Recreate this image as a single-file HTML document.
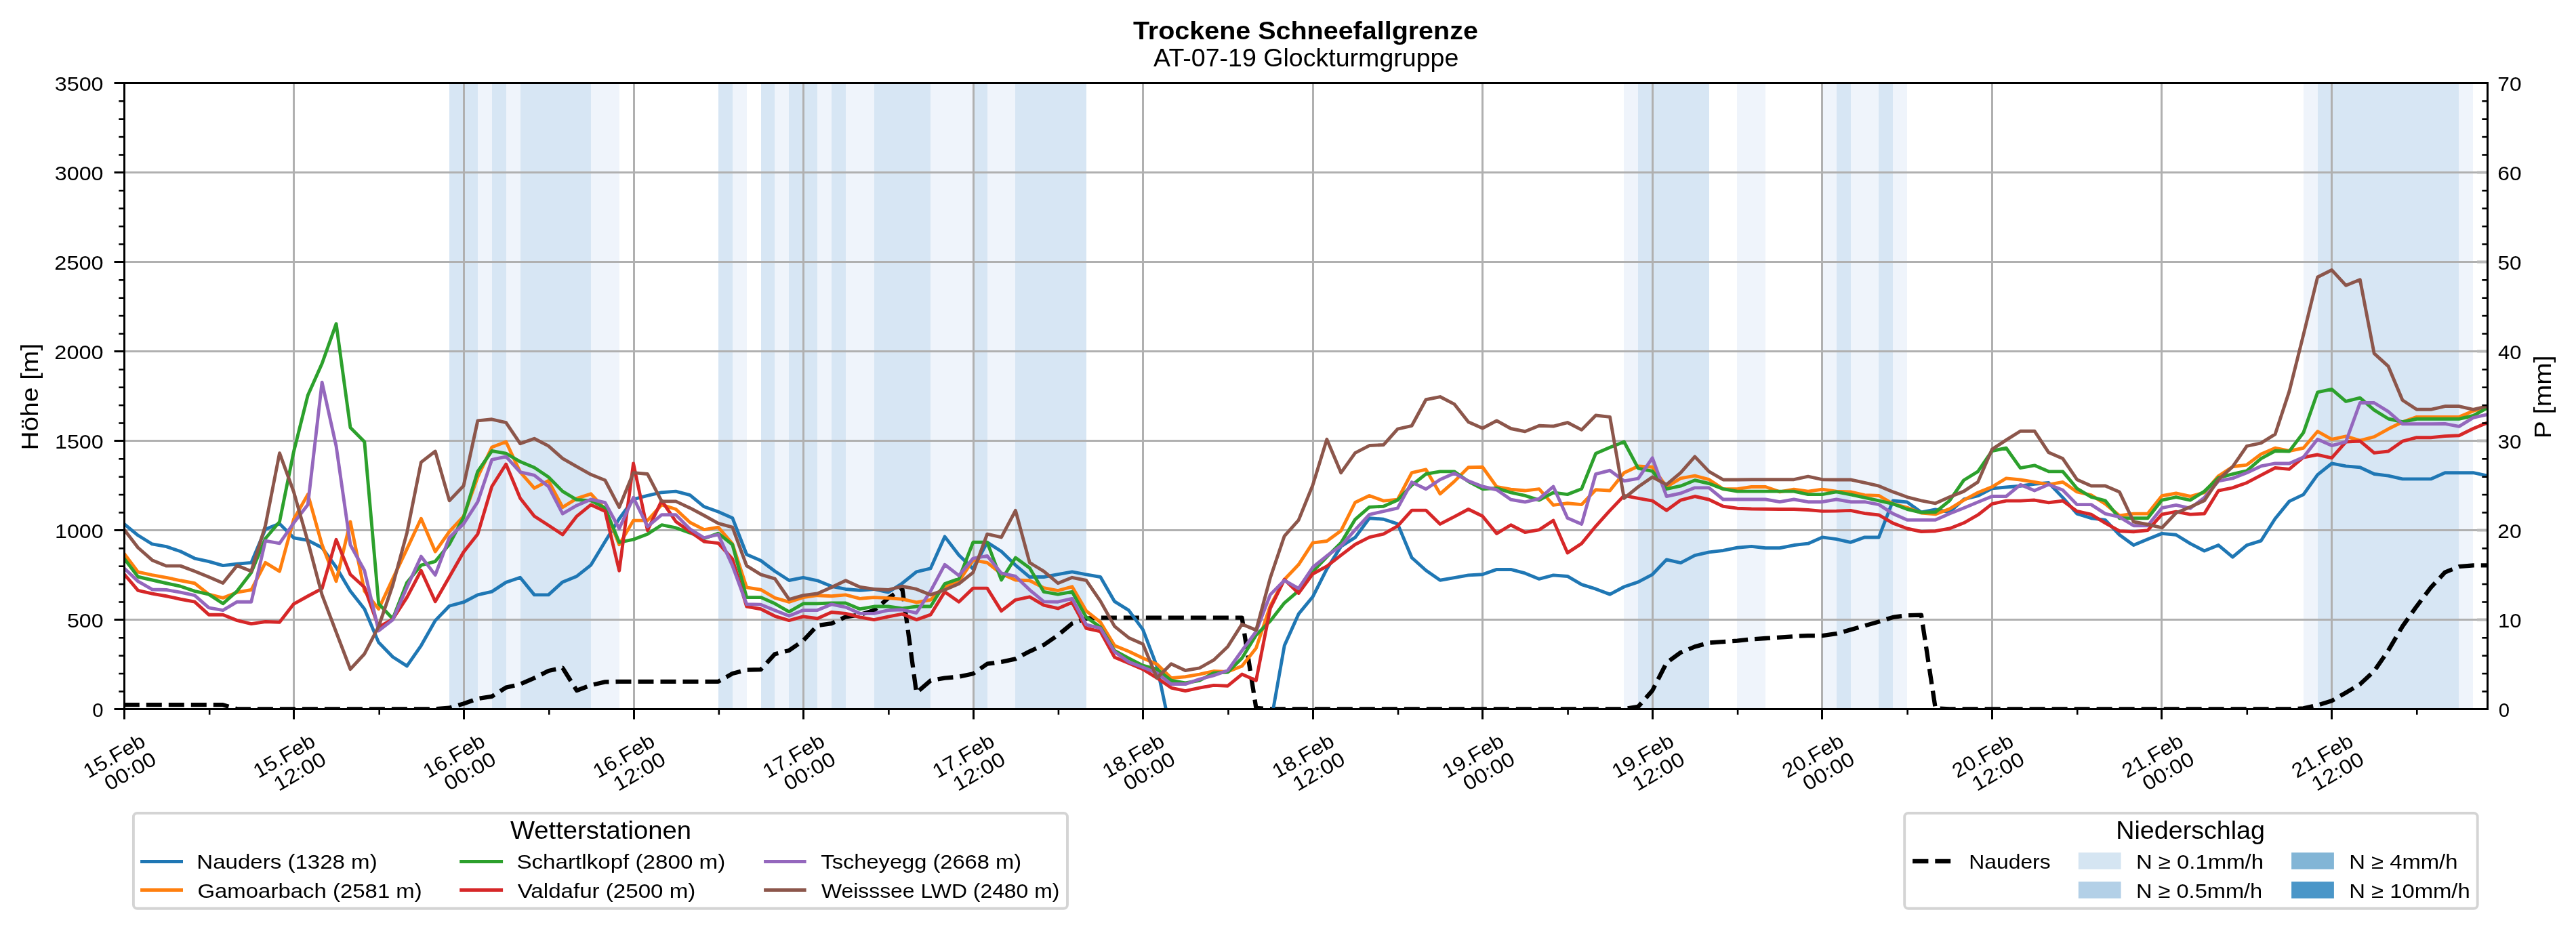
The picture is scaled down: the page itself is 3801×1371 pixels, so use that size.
<!DOCTYPE html>
<html><head><meta charset="utf-8"><title>Trockene Schneefallgrenze</title>
<style>html,body{margin:0;padding:0;background:#fff}svg{display:block;will-change:transform}</style></head>
<body>
<svg width="3801" height="1371" viewBox="0 0 3801 1371" font-family="'Liberation Sans', sans-serif" fill="#000">
<rect width="3801" height="1371" fill="#fff"/>
<defs><clipPath id="ax"><rect x="183.50" y="122.50" width="3487.00" height="924.00"/></clipPath></defs>
<g clip-path="url(#ax)">
<rect x="663" y="122.50" width="42" height="924.00" fill="#d7e6f4"/>
<rect x="705" y="122.50" width="21" height="924.00" fill="#eff4fb"/>
<rect x="726" y="122.50" width="21" height="924.00" fill="#d7e6f4"/>
<rect x="747" y="122.50" width="21" height="924.00" fill="#eff4fb"/>
<rect x="768" y="122.50" width="104" height="924.00" fill="#d7e6f4"/>
<rect x="872" y="122.50" width="42" height="924.00" fill="#eff4fb"/>
<rect x="1060" y="122.50" width="21" height="924.00" fill="#d7e6f4"/>
<rect x="1081" y="122.50" width="21" height="924.00" fill="#eff4fb"/>
<rect x="1123" y="122.50" width="20" height="924.00" fill="#d7e6f4"/>
<rect x="1143" y="122.50" width="21" height="924.00" fill="#eff4fb"/>
<rect x="1164" y="122.50" width="42" height="924.00" fill="#d7e6f4"/>
<rect x="1206" y="122.50" width="21" height="924.00" fill="#eff4fb"/>
<rect x="1227" y="122.50" width="21" height="924.00" fill="#d7e6f4"/>
<rect x="1248" y="122.50" width="42" height="924.00" fill="#eff4fb"/>
<rect x="1290" y="122.50" width="83" height="924.00" fill="#d7e6f4"/>
<rect x="1373" y="122.50" width="63" height="924.00" fill="#eff4fb"/>
<rect x="1436" y="122.50" width="21" height="924.00" fill="#d7e6f4"/>
<rect x="1457" y="122.50" width="41" height="924.00" fill="#eff4fb"/>
<rect x="1498" y="122.50" width="105" height="924.00" fill="#d7e6f4"/>
<rect x="2396" y="122.50" width="21" height="924.00" fill="#eff4fb"/>
<rect x="2417" y="122.50" width="105" height="924.00" fill="#d7e6f4"/>
<rect x="2563" y="122.50" width="42" height="924.00" fill="#eff4fb"/>
<rect x="2689" y="122.50" width="21" height="924.00" fill="#eff4fb"/>
<rect x="2710" y="122.50" width="21" height="924.00" fill="#d7e6f4"/>
<rect x="2731" y="122.50" width="41" height="924.00" fill="#eff4fb"/>
<rect x="2772" y="122.50" width="21" height="924.00" fill="#d7e6f4"/>
<rect x="2793" y="122.50" width="21" height="924.00" fill="#eff4fb"/>
<rect x="3399" y="122.50" width="21" height="924.00" fill="#eff4fb"/>
<rect x="3420" y="122.50" width="208" height="924.00" fill="#d7e6f4"/>
<rect x="3628" y="122.50" width="21" height="924.00" fill="#eff4fb"/>
<line x1="433.50" x2="433.50" y1="122.50" y2="1046.50" stroke="#b0b0b0" stroke-width="3.0"/>
<line x1="684.50" x2="684.50" y1="122.50" y2="1046.50" stroke="#b0b0b0" stroke-width="3.0"/>
<line x1="935.50" x2="935.50" y1="122.50" y2="1046.50" stroke="#b0b0b0" stroke-width="3.0"/>
<line x1="1185.50" x2="1185.50" y1="122.50" y2="1046.50" stroke="#b0b0b0" stroke-width="3.0"/>
<line x1="1436.50" x2="1436.50" y1="122.50" y2="1046.50" stroke="#b0b0b0" stroke-width="3.0"/>
<line x1="1686.50" x2="1686.50" y1="122.50" y2="1046.50" stroke="#b0b0b0" stroke-width="3.0"/>
<line x1="1937.50" x2="1937.50" y1="122.50" y2="1046.50" stroke="#b0b0b0" stroke-width="3.0"/>
<line x1="2187.50" x2="2187.50" y1="122.50" y2="1046.50" stroke="#b0b0b0" stroke-width="3.0"/>
<line x1="2438.50" x2="2438.50" y1="122.50" y2="1046.50" stroke="#b0b0b0" stroke-width="3.0"/>
<line x1="2688.50" x2="2688.50" y1="122.50" y2="1046.50" stroke="#b0b0b0" stroke-width="3.0"/>
<line x1="2939.50" x2="2939.50" y1="122.50" y2="1046.50" stroke="#b0b0b0" stroke-width="3.0"/>
<line x1="3189.50" x2="3189.50" y1="122.50" y2="1046.50" stroke="#b0b0b0" stroke-width="3.0"/>
<line x1="3440.50" x2="3440.50" y1="122.50" y2="1046.50" stroke="#b0b0b0" stroke-width="3.0"/>
<line x1="183.50" x2="3670.50" y1="914.50" y2="914.50" stroke="#b0b0b0" stroke-width="3.0"/>
<line x1="183.50" x2="3670.50" y1="782.50" y2="782.50" stroke="#b0b0b0" stroke-width="3.0"/>
<line x1="183.50" x2="3670.50" y1="650.50" y2="650.50" stroke="#b0b0b0" stroke-width="3.0"/>
<line x1="183.50" x2="3670.50" y1="518.50" y2="518.50" stroke="#b0b0b0" stroke-width="3.0"/>
<line x1="183.50" x2="3670.50" y1="386.50" y2="386.50" stroke="#b0b0b0" stroke-width="3.0"/>
<line x1="183.50" x2="3670.50" y1="254.50" y2="254.50" stroke="#b0b0b0" stroke-width="3.0"/>
<line x1="3655.10" x2="3670.50" y1="914.50" y2="914.50" stroke="#b8b8b8" stroke-width="4.2"/>
<line x1="3655.10" x2="3670.50" y1="782.50" y2="782.50" stroke="#b8b8b8" stroke-width="4.2"/>
<line x1="3655.10" x2="3670.50" y1="650.50" y2="650.50" stroke="#b8b8b8" stroke-width="4.2"/>
<line x1="3655.10" x2="3670.50" y1="518.50" y2="518.50" stroke="#b8b8b8" stroke-width="4.2"/>
<line x1="3655.10" x2="3670.50" y1="386.50" y2="386.50" stroke="#b8b8b8" stroke-width="4.2"/>
<line x1="3655.10" x2="3670.50" y1="254.50" y2="254.50" stroke="#b8b8b8" stroke-width="4.2"/>
<polyline points="182.80,1040.17 203.68,1040.17 224.57,1040.17 245.45,1040.17 266.33,1040.17 287.22,1040.17 308.10,1040.17 328.98,1040.17 349.86,1046.37 370.75,1046.37 391.63,1046.37 412.51,1046.37 433.40,1046.37 454.28,1046.37 475.16,1046.37 496.05,1046.37 516.93,1046.37 537.81,1046.37 558.69,1046.37 579.58,1046.37 600.46,1046.37 621.34,1046.37 642.23,1046.37 663.11,1044.65 683.99,1038.58 704.88,1030.93 725.76,1027.77 746.64,1014.57 767.52,1009.82 788.41,1000.59 809.29,990.03 830.17,985.55 851.06,1019.06 871.94,1011.14 892.82,1006.39 913.70,1005.87 934.59,1005.87 955.47,1005.87 976.35,1005.87 997.24,1005.87 1018.12,1005.87 1039.00,1005.87 1059.89,1005.87 1080.77,993.99 1101.65,988.71 1122.54,988.19 1143.42,965.23 1164.30,959.95 1185.18,945.44 1206.07,923.01 1226.95,920.11 1247.83,910.35 1268.72,907.18 1289.60,900.85 1310.48,882.91 1331.37,868.66 1352.25,1022.49 1373.13,1004.28 1394.01,1000.59 1414.90,998.74 1435.78,994.26 1456.66,979.74 1477.55,976.84 1498.43,972.36 1519.31,961.27 1540.19,951.77 1561.08,937.26 1581.96,920.11 1602.84,912.72 1623.73,911.67 1644.61,911.67 1665.49,911.67 1686.38,911.67 1707.26,911.67 1728.14,911.67 1749.02,911.67 1769.91,911.67 1790.79,911.67 1811.67,911.67 1832.56,911.67 1853.44,1044.92 1874.32,1046.37 1895.21,1046.37 1916.09,1046.37 1936.97,1046.37 1957.85,1046.37 1978.74,1046.37 1999.62,1046.37 2020.50,1046.37 2041.39,1046.37 2062.27,1046.37 2083.15,1046.37 2104.04,1046.37 2124.92,1046.37 2145.80,1046.37 2166.68,1046.37 2187.57,1046.37 2208.45,1046.37 2229.33,1046.37 2250.22,1046.37 2271.10,1046.37 2291.98,1046.37 2312.87,1046.37 2333.75,1046.37 2354.63,1046.37 2375.51,1046.37 2396.40,1046.37 2417.28,1042.81 2438.16,1019.06 2459.05,978.16 2479.93,962.86 2500.81,954.41 2521.70,948.61 2542.58,947.02 2563.46,945.71 2584.35,943.33 2605.23,942.01 2626.11,940.69 2646.99,939.11 2667.88,938.05 2688.76,938.05 2709.64,935.15 2730.53,929.35 2751.41,923.54 2772.29,917.47 2793.18,910.88 2814.06,908.24 2834.94,907.71 2855.82,1045.44 2876.71,1046.37 2897.59,1046.37 2918.47,1046.37 2939.36,1046.37 2960.24,1046.37 2981.12,1046.37 3002.01,1046.37 3022.89,1046.37 3043.77,1046.37 3064.65,1046.37 3085.54,1046.37 3106.42,1046.37 3127.30,1046.37 3148.19,1046.37 3169.07,1046.37 3189.95,1046.37 3210.84,1046.37 3231.72,1046.37 3252.60,1046.37 3273.48,1046.37 3294.37,1046.37 3315.25,1046.37 3336.13,1046.37 3357.02,1046.37 3377.90,1046.37 3398.78,1045.44 3419.66,1040.70 3440.55,1034.36 3461.43,1022.22 3482.31,1009.82 3503.20,990.30 3524.08,959.95 3544.96,924.33 3565.85,894.78 3586.73,867.08 3607.61,844.65 3628.49,836.20 3649.38,834.36 3670.26,834.36" fill="none" stroke="#000" stroke-width="6.3" stroke-dasharray="23 10" stroke-linejoin="round"/>
<polyline points="182.80,772.88 203.68,790.03 224.57,802.96 245.45,806.65 266.33,813.78 287.22,824.07 308.10,828.55 328.98,834.62 349.86,832.25 370.75,830.40 391.63,781.06 412.51,772.88 433.40,793.72 454.28,797.42 475.16,808.23 496.05,837.00 516.93,872.35 537.81,898.74 558.69,948.08 579.58,969.45 600.46,982.91 621.34,952.83 642.23,915.89 663.11,894.25 683.99,888.71 704.88,877.89 725.76,873.14 746.64,859.42 767.52,852.30 788.41,877.89 809.29,877.89 830.17,858.90 851.06,850.45 871.94,833.83 892.82,799.26 913.70,765.49 934.59,736.99 955.47,731.45 976.35,726.70 997.24,725.12 1018.12,730.66 1039.00,747.81 1059.89,755.20 1080.77,764.43 1101.65,818.26 1122.54,827.23 1143.42,843.06 1164.30,856.52 1185.18,852.30 1206.07,856.78 1226.95,865.23 1247.83,869.45 1268.72,871.30 1289.60,869.45 1310.48,874.20 1331.37,860.74 1352.25,843.86 1373.13,838.84 1394.01,791.88 1414.90,819.32 1435.78,839.37 1456.66,800.32 1477.55,813.78 1498.43,834.09 1519.31,851.51 1540.19,851.51 1561.08,847.55 1581.96,843.86 1602.84,847.81 1623.73,851.51 1644.61,887.66 1665.49,900.59 1686.38,929.08 1707.26,983.97 1728.14,1083.44 1749.02,1125.66 1769.91,1125.66 1790.79,1125.66 1811.67,1125.66 1832.56,1125.66 1853.44,1125.66 1874.32,1071.04 1895.21,952.83 1916.09,906.13 1936.97,880.80 1957.85,839.63 1978.74,806.39 1999.62,793.19 2020.50,764.70 2041.39,766.28 2062.27,773.14 2083.15,823.01 2104.04,841.74 2124.92,856.26 2145.80,852.56 2166.68,848.87 2187.57,847.81 2208.45,840.43 2229.33,840.43 2250.22,845.97 2271.10,854.41 2291.98,848.87 2312.87,850.45 2333.75,862.59 2354.63,869.19 2375.51,877.10 2396.40,866.02 2417.28,858.90 2438.16,847.81 2459.05,825.91 2479.93,830.66 2500.81,819.58 2521.70,814.83 2542.58,812.46 2563.46,808.23 2584.35,806.39 2605.23,808.76 2626.11,808.76 2646.99,804.54 2667.88,802.17 2688.76,792.93 2709.64,795.57 2730.53,800.32 2751.41,792.93 2772.29,792.93 2793.18,738.84 2814.06,740.95 2834.94,755.99 2855.82,752.03 2876.71,755.73 2897.59,736.99 2918.47,731.72 2939.36,720.90 2960.24,719.05 2981.12,717.20 3002.01,714.30 3022.89,712.45 3043.77,734.35 3064.65,758.10 3085.54,764.70 3106.42,767.34 3127.30,789.24 3148.19,804.54 3169.07,795.83 3189.95,787.39 3210.84,789.24 3231.72,802.17 3252.60,812.98 3273.48,804.54 3294.37,822.22 3315.25,804.54 3336.13,798.21 3357.02,765.49 3377.90,739.89 3398.78,729.87 3419.66,700.58 3440.55,683.96 3461.43,687.91 3482.31,689.76 3503.20,699.52 3524.08,702.16 3544.96,706.91 3565.85,706.91 3586.73,706.91 3607.61,697.68 3628.49,697.68 3649.38,697.68 3670.26,702.16" fill="none" stroke="#1f77b4" stroke-width="4.9" stroke-linejoin="round" stroke-linecap="square"/>
<polyline points="182.80,816.41 203.68,844.12 224.57,848.61 245.45,852.30 266.33,856.78 287.22,860.74 308.10,877.10 328.98,882.38 349.86,874.20 370.75,870.51 391.63,830.40 412.51,843.06 433.40,766.28 454.28,729.60 475.16,804.01 496.05,857.84 516.93,769.97 537.81,872.35 558.69,898.74 579.58,854.15 600.46,810.08 621.34,765.23 642.23,814.04 663.11,784.49 683.99,762.06 704.88,704.01 725.76,659.95 746.64,652.03 767.52,696.62 788.41,720.37 809.29,709.55 830.17,748.60 851.06,735.67 871.94,728.81 892.82,751.50 913.70,803.75 934.59,768.13 955.47,768.13 976.35,744.91 997.24,751.50 1018.12,771.03 1039.00,781.58 1059.89,778.15 1080.77,802.69 1101.65,866.81 1122.54,870.24 1143.42,882.38 1164.30,888.45 1185.18,881.59 1206.07,878.69 1226.95,879.74 1247.83,877.89 1268.72,883.43 1289.60,881.59 1310.48,882.64 1331.37,884.23 1352.25,888.98 1373.13,885.28 1394.01,865.23 1414.90,857.84 1435.78,826.70 1456.66,830.40 1477.55,846.76 1498.43,855.99 1519.31,856.78 1540.19,867.60 1561.08,871.56 1581.96,865.76 1602.84,901.64 1623.73,918.26 1644.61,952.83 1665.49,961.27 1686.38,971.30 1707.26,980.27 1728.14,1000.59 1749.02,998.74 1769.91,995.05 1790.79,990.56 1811.67,991.35 1832.56,982.91 1853.44,956.52 1874.32,894.25 1895.21,855.20 1916.09,833.30 1936.97,801.11 1957.85,798.47 1978.74,783.17 1999.62,741.48 2020.50,731.45 2041.39,739.10 2062.27,737.26 2083.15,697.68 2104.04,692.93 2124.92,728.81 2145.80,710.61 2166.68,689.76 2187.57,689.23 2208.45,718.52 2229.33,722.22 2250.22,724.06 2271.10,721.69 2291.98,745.44 2312.87,742.80 2333.75,744.64 2354.63,722.74 2375.51,724.06 2396.40,697.68 2417.28,687.91 2438.16,689.23 2459.05,718.52 2479.93,705.86 2500.81,702.16 2521.70,707.70 2542.58,721.69 2563.46,721.69 2584.35,718.52 2605.23,718.52 2626.11,725.91 2646.99,722.22 2667.88,725.12 2688.76,722.22 2709.64,725.12 2730.53,725.91 2751.41,730.66 2772.29,731.45 2793.18,743.59 2814.06,749.13 2834.94,757.05 2855.82,758.89 2876.71,750.98 2897.59,738.05 2918.47,726.97 2939.36,718.52 2960.24,705.86 2981.12,707.97 3002.01,711.40 3022.89,715.09 3043.77,711.40 3064.65,725.91 3085.54,730.66 3106.42,743.59 3127.30,761.00 3148.19,758.10 3169.07,758.10 3189.95,731.72 3210.84,728.02 3231.72,732.51 3252.60,726.97 3273.48,702.43 3294.37,688.71 3315.25,686.07 3336.13,670.24 3357.02,661.26 3377.90,665.49 3398.78,661.26 3419.66,636.73 3440.55,648.34 3461.43,643.85 3482.31,650.18 3503.20,644.64 3524.08,633.03 3544.96,622.74 3565.85,615.35 3586.73,615.35 3607.61,615.35 3628.49,615.35 3649.38,606.38 3670.26,600.84" fill="none" stroke="#ff7f0e" stroke-width="4.9" stroke-linejoin="round" stroke-linecap="square"/>
<polyline points="182.80,823.80 203.68,851.24 224.57,855.99 245.45,860.74 266.33,865.23 287.22,872.35 308.10,877.10 328.98,890.82 349.86,872.35 370.75,844.91 391.63,794.78 412.51,769.97 433.40,666.54 454.28,583.16 475.16,536.46 496.05,477.88 516.93,630.92 537.81,652.03 558.69,890.82 579.58,913.25 600.46,859.69 621.34,834.09 642.23,828.55 663.11,803.22 683.99,763.64 704.88,695.83 725.76,665.49 746.64,669.18 767.52,681.32 788.41,690.03 809.29,704.01 830.17,725.12 851.06,737.52 871.94,738.84 892.82,749.66 913.70,800.32 934.59,796.10 955.47,788.18 976.35,774.72 997.24,778.95 1018.12,786.33 1039.00,794.78 1059.89,787.13 1080.77,803.75 1101.65,881.59 1122.54,881.59 1143.42,890.82 1164.30,902.96 1185.18,890.82 1206.07,890.82 1226.95,890.03 1247.83,890.03 1268.72,898.74 1289.60,895.04 1310.48,895.04 1331.37,897.95 1352.25,895.04 1373.13,895.04 1394.01,861.53 1414.90,854.15 1435.78,800.32 1456.66,800.32 1477.55,855.99 1498.43,823.01 1519.31,838.31 1540.19,873.41 1561.08,877.10 1581.96,873.41 1602.84,910.88 1623.73,925.39 1644.61,960.22 1665.49,971.30 1686.38,982.12 1707.26,987.66 1728.14,1004.28 1749.02,1007.98 1769.91,1004.28 1790.79,993.20 1811.67,992.14 1832.56,971.30 1853.44,937.26 1874.32,916.42 1895.21,889.77 1916.09,871.82 1936.97,843.59 1957.85,821.69 1978.74,801.11 1999.62,766.54 2020.50,748.34 2041.39,747.28 2062.27,738.05 2083.15,716.15 2104.04,699.52 2124.92,695.83 2145.80,695.83 2166.68,710.61 2187.57,721.69 2208.45,720.37 2229.33,726.97 2250.22,731.45 2271.10,738.05 2291.98,726.97 2312.87,729.60 2333.75,721.42 2354.63,669.18 2375.51,660.21 2396.40,652.03 2417.28,691.08 2438.16,695.30 2459.05,721.69 2479.93,717.20 2500.81,708.76 2521.70,713.51 2542.58,721.69 2563.46,725.12 2584.35,725.12 2605.23,725.12 2626.11,725.12 2646.99,725.12 2667.88,729.60 2688.76,729.60 2709.64,725.91 2730.53,729.87 2751.41,734.35 2772.29,738.84 2793.18,743.59 2814.06,751.50 2834.94,756.25 2855.82,755.73 2876.71,738.84 2897.59,708.76 2918.47,695.83 2939.36,665.49 2960.24,661.26 2981.12,690.55 3002.01,686.86 3022.89,695.83 3043.77,695.83 3064.65,720.90 3085.54,733.30 3106.42,738.84 3127.30,764.70 3148.19,764.70 3169.07,764.70 3189.95,738.05 3210.84,733.56 3231.72,738.05 3252.60,725.12 3273.48,705.07 3294.37,699.52 3315.25,694.77 3336.13,676.83 3357.02,665.49 3377.90,666.01 3398.78,638.57 3419.66,578.94 3440.55,574.45 3461.43,592.40 3482.31,587.12 3503.20,605.06 3524.08,617.99 3544.96,622.74 3565.85,618.26 3586.73,618.26 3607.61,618.26 3628.49,618.26 3649.38,613.51 3670.26,601.90" fill="none" stroke="#2ca02c" stroke-width="4.9" stroke-linejoin="round" stroke-linecap="square"/>
<polyline points="182.80,846.76 203.68,871.30 224.57,876.05 245.45,879.74 266.33,884.23 287.22,888.18 308.10,907.18 328.98,907.18 349.86,915.63 370.75,920.64 391.63,917.47 412.51,918.26 433.40,891.35 454.28,879.74 475.16,868.66 496.05,796.36 516.93,847.81 537.81,866.81 558.69,925.39 579.58,913.78 600.46,881.59 621.34,842.01 642.23,887.66 663.11,851.24 683.99,814.83 704.88,788.18 725.76,717.99 746.64,685.01 767.52,735.15 788.41,761.80 809.29,775.25 830.17,788.97 851.06,761.80 871.94,744.91 892.82,754.41 913.70,842.27 934.59,683.96 955.47,782.64 976.35,738.84 997.24,769.71 1018.12,784.49 1039.00,799.26 1059.89,801.64 1080.77,824.86 1101.65,895.04 1122.54,898.74 1143.42,909.29 1164.30,915.63 1185.18,909.82 1206.07,912.72 1226.95,903.49 1247.83,905.33 1268.72,910.88 1289.60,914.57 1310.48,910.08 1331.37,906.13 1352.25,914.57 1373.13,907.18 1394.01,873.41 1414.90,888.18 1435.78,868.13 1456.66,868.13 1477.55,901.64 1498.43,885.28 1519.31,880.80 1540.19,893.20 1561.08,897.95 1581.96,888.98 1602.84,927.24 1623.73,931.98 1644.61,969.98 1665.49,978.69 1686.38,987.66 1707.26,1000.59 1728.14,1015.10 1749.02,1019.59 1769.91,1015.10 1790.79,1011.41 1811.67,1012.20 1832.56,995.05 1853.44,1004.28 1874.32,897.95 1895.21,855.20 1916.09,875.52 1936.97,847.02 1957.85,835.68 1978.74,819.32 1999.62,803.48 2020.50,792.93 2041.39,788.18 2062.27,776.31 2083.15,753.09 2104.04,753.09 2124.92,773.40 2145.80,762.59 2166.68,751.50 2187.57,761.80 2208.45,787.39 2229.33,774.72 2250.22,785.54 2271.10,781.85 2291.98,768.13 2312.87,815.89 2333.75,802.17 2354.63,776.57 2375.51,753.35 2396.40,731.45 2417.28,735.41 2438.16,739.10 2459.05,753.35 2479.93,738.05 2500.81,732.51 2521.70,737.26 2542.58,747.28 2563.46,750.19 2584.35,750.98 2605.23,751.24 2626.11,751.50 2646.99,751.50 2667.88,752.56 2688.76,754.41 2709.64,754.14 2730.53,753.35 2751.41,757.57 2772.29,759.95 2793.18,772.09 2814.06,780.00 2834.94,784.49 2855.82,783.70 2876.71,780.00 2897.59,771.82 2918.47,759.95 2939.36,743.59 2960.24,739.10 2981.12,739.10 3002.01,738.05 3022.89,741.74 3043.77,739.10 3064.65,754.41 3085.54,759.16 3106.42,771.82 3127.30,783.70 3148.19,784.75 3169.07,782.64 3189.95,759.16 3210.84,755.20 3231.72,759.16 3252.60,758.10 3273.48,724.06 3294.37,719.84 3315.25,712.45 3336.13,701.37 3357.02,690.55 3377.90,692.40 3398.78,674.99 3419.66,671.03 3440.55,675.78 3461.43,652.03 3482.31,650.97 3503.20,668.39 3524.08,666.01 3544.96,651.24 3565.85,645.70 3586.73,645.70 3607.61,643.59 3628.49,642.79 3649.38,632.50 3670.26,623.80" fill="none" stroke="#d62728" stroke-width="4.9" stroke-linejoin="round" stroke-linecap="square"/>
<polyline points="182.80,838.31 203.68,857.84 224.57,869.98 245.45,870.51 266.33,874.20 287.22,878.69 308.10,896.89 328.98,900.59 349.86,888.18 370.75,888.18 391.63,798.21 412.51,801.90 433.40,771.82 454.28,744.64 475.16,564.16 496.05,658.36 516.93,804.01 537.81,842.01 558.69,930.93 579.58,914.57 600.46,866.81 621.34,821.16 642.23,848.61 663.11,793.19 683.99,773.14 704.88,740.69 725.76,678.42 746.64,673.93 767.52,696.62 788.41,701.37 809.29,717.99 830.17,758.10 851.06,745.96 871.94,736.99 892.82,741.74 913.70,780.00 934.59,734.35 955.47,777.10 976.35,759.68 997.24,759.68 1018.12,780.79 1039.00,793.72 1059.89,788.97 1080.77,834.88 1101.65,891.61 1122.54,892.14 1143.42,900.85 1164.30,909.03 1185.18,900.59 1206.07,900.59 1226.95,891.88 1247.83,896.10 1268.72,905.33 1289.60,905.33 1310.48,900.59 1331.37,899.79 1352.25,904.54 1373.13,872.35 1394.01,833.30 1414.90,849.40 1435.78,824.07 1456.66,820.37 1477.55,845.97 1498.43,850.45 1519.31,870.51 1540.19,887.92 1561.08,888.18 1581.96,883.43 1602.84,921.96 1623.73,927.24 1644.61,962.06 1665.49,976.84 1686.38,984.76 1707.26,993.20 1728.14,1009.56 1749.02,1009.56 1769.91,1002.44 1790.79,996.89 1811.67,989.51 1832.56,960.22 1853.44,931.98 1874.32,877.63 1895.21,856.52 1916.09,868.39 1936.97,837.26 1957.85,820.37 1978.74,805.60 1999.62,781.85 2020.50,759.42 2041.39,754.67 2062.27,749.92 2083.15,711.66 2104.04,721.69 2124.92,707.70 2145.80,698.47 2166.68,709.81 2187.57,717.99 2208.45,722.74 2229.33,737.26 2250.22,740.95 2271.10,736.20 2291.98,717.99 2312.87,764.43 2333.75,773.40 2354.63,699.52 2375.51,694.25 2396.40,709.81 2417.28,706.12 2438.16,675.78 2459.05,732.51 2479.93,728.02 2500.81,719.84 2521.70,719.84 2542.58,736.99 2563.46,736.99 2584.35,736.99 2605.23,736.99 2626.11,740.69 2646.99,736.99 2667.88,740.69 2688.76,740.69 2709.64,736.99 2730.53,740.69 2751.41,740.69 2772.29,744.64 2793.18,758.10 2814.06,767.34 2834.94,767.34 2855.82,767.34 2876.71,758.10 2897.59,749.66 2918.47,740.95 2939.36,732.51 2960.24,732.51 2981.12,715.36 3002.01,724.06 3022.89,715.09 3043.77,723.27 3064.65,744.64 3085.54,744.64 3106.42,758.10 3127.30,762.85 3148.19,775.78 3169.07,775.78 3189.95,749.66 3210.84,745.44 3231.72,750.19 3252.60,734.35 3273.48,709.81 3294.37,705.86 3315.25,697.68 3336.13,687.91 3357.02,683.96 3377.90,683.96 3398.78,674.72 3419.66,648.34 3440.55,657.57 3461.43,652.03 3482.31,594.51 3503.20,594.51 3524.08,607.44 3544.96,625.64 3565.85,625.64 3586.73,625.64 3607.61,625.38 3628.49,629.34 3649.38,616.41 3670.26,611.66" fill="none" stroke="#9467bd" stroke-width="4.9" stroke-linejoin="round" stroke-linecap="square"/>
<polyline points="182.80,781.06 203.68,808.23 224.57,826.70 245.45,835.15 266.33,835.15 287.22,843.06 308.10,851.51 328.98,860.48 349.86,834.62 370.75,843.06 391.63,775.52 412.51,668.65 433.40,725.91 454.28,799.26 475.16,877.89 496.05,932.78 516.93,987.66 537.81,964.97 558.69,924.60 579.58,863.38 600.46,786.33 621.34,682.11 642.23,666.01 663.11,738.84 683.99,716.94 704.88,620.89 725.76,618.78 746.64,623.53 767.52,654.67 788.41,647.28 809.29,658.10 830.17,676.57 851.06,688.71 871.94,700.32 892.82,708.76 913.70,748.60 934.59,697.68 955.47,699.52 976.35,739.89 997.24,739.89 1018.12,749.66 1039.00,760.74 1059.89,772.35 1080.77,778.15 1101.65,834.88 1122.54,847.81 1143.42,854.15 1164.30,884.49 1185.18,878.69 1206.07,876.05 1226.95,866.81 1247.83,856.78 1268.72,866.28 1289.60,869.45 1310.48,870.51 1331.37,865.23 1352.25,869.45 1373.13,877.89 1394.01,870.51 1414.90,861.53 1435.78,844.91 1456.66,788.18 1477.55,792.93 1498.43,753.35 1519.31,830.40 1540.19,843.06 1561.08,860.74 1581.96,852.30 1602.84,856.52 1623.73,887.13 1644.61,924.33 1665.49,941.22 1686.38,950.45 1707.26,1000.59 1728.14,979.74 1749.02,989.51 1769.91,985.81 1790.79,974.20 1811.67,954.15 1832.56,921.17 1853.44,929.87 1874.32,852.83 1895.21,791.08 1916.09,767.60 1936.97,716.15 1957.85,648.34 1978.74,697.68 1999.62,668.39 2020.50,657.57 2041.39,656.51 2062.27,633.03 2083.15,628.28 2104.04,589.76 2124.92,585.54 2145.80,596.35 2166.68,622.74 2187.57,631.98 2208.45,620.89 2229.33,632.50 2250.22,636.73 2271.10,628.28 2291.98,629.07 2312.87,623.53 2333.75,634.35 2354.63,612.98 2375.51,615.35 2396.40,735.41 2417.28,718.52 2438.16,704.01 2459.05,715.09 2479.93,697.68 2500.81,673.93 2521.70,695.83 2542.58,707.97 2563.46,707.97 2584.35,707.70 2605.23,707.70 2626.11,707.70 2646.99,707.70 2667.88,703.22 2688.76,707.70 2709.64,707.97 2730.53,707.97 2751.41,712.45 2772.29,717.20 2793.18,725.91 2814.06,733.56 2834.94,738.84 2855.82,742.80 2876.71,733.56 2897.59,725.12 2918.47,711.40 2939.36,663.11 2960.24,649.39 2981.12,636.20 3002.01,636.20 3022.89,667.86 3043.77,676.83 3064.65,707.70 3085.54,716.94 3106.42,716.94 3127.30,725.91 3148.19,769.97 3169.07,773.93 3189.95,778.95 3210.84,757.05 3231.72,748.34 3252.60,738.84 3273.48,707.70 3294.37,688.71 3315.25,658.36 3336.13,653.88 3357.02,640.95 3377.90,577.62 3398.78,494.24 3419.66,409.01 3440.55,398.46 3461.43,421.15 3482.31,412.71 3503.20,521.68 3524.08,540.68 3544.96,590.55 3565.85,604.27 3586.73,604.27 3607.61,599.52 3628.49,599.52 3649.38,604.27 3670.26,599.52" fill="none" stroke="#8c564b" stroke-width="4.9" stroke-linejoin="round" stroke-linecap="square"/>
</g>
<line x1="168.50" x2="183.50" y1="1046.50" y2="1046.50" stroke="#000" stroke-width="3.0"/>
<line x1="175.30" x2="183.50" y1="1020.50" y2="1020.50" stroke="#000" stroke-width="2.6"/>
<line x1="175.30" x2="183.50" y1="994.10" y2="994.10" stroke="#000" stroke-width="2.6"/>
<line x1="175.30" x2="183.50" y1="967.70" y2="967.70" stroke="#000" stroke-width="2.6"/>
<line x1="175.30" x2="183.50" y1="941.30" y2="941.30" stroke="#000" stroke-width="2.6"/>
<line x1="168.50" x2="183.50" y1="914.50" y2="914.50" stroke="#000" stroke-width="3.0"/>
<line x1="175.30" x2="183.50" y1="888.50" y2="888.50" stroke="#000" stroke-width="2.6"/>
<line x1="175.30" x2="183.50" y1="862.10" y2="862.10" stroke="#000" stroke-width="2.6"/>
<line x1="175.30" x2="183.50" y1="835.70" y2="835.70" stroke="#000" stroke-width="2.6"/>
<line x1="175.30" x2="183.50" y1="809.30" y2="809.30" stroke="#000" stroke-width="2.6"/>
<line x1="168.50" x2="183.50" y1="782.50" y2="782.50" stroke="#000" stroke-width="3.0"/>
<line x1="175.30" x2="183.50" y1="756.50" y2="756.50" stroke="#000" stroke-width="2.6"/>
<line x1="175.30" x2="183.50" y1="730.10" y2="730.10" stroke="#000" stroke-width="2.6"/>
<line x1="175.30" x2="183.50" y1="703.70" y2="703.70" stroke="#000" stroke-width="2.6"/>
<line x1="175.30" x2="183.50" y1="677.30" y2="677.30" stroke="#000" stroke-width="2.6"/>
<line x1="168.50" x2="183.50" y1="650.50" y2="650.50" stroke="#000" stroke-width="3.0"/>
<line x1="175.30" x2="183.50" y1="624.50" y2="624.50" stroke="#000" stroke-width="2.6"/>
<line x1="175.30" x2="183.50" y1="598.10" y2="598.10" stroke="#000" stroke-width="2.6"/>
<line x1="175.30" x2="183.50" y1="571.70" y2="571.70" stroke="#000" stroke-width="2.6"/>
<line x1="175.30" x2="183.50" y1="545.30" y2="545.30" stroke="#000" stroke-width="2.6"/>
<line x1="168.50" x2="183.50" y1="518.50" y2="518.50" stroke="#000" stroke-width="3.0"/>
<line x1="175.30" x2="183.50" y1="492.50" y2="492.50" stroke="#000" stroke-width="2.6"/>
<line x1="175.30" x2="183.50" y1="466.10" y2="466.10" stroke="#000" stroke-width="2.6"/>
<line x1="175.30" x2="183.50" y1="439.70" y2="439.70" stroke="#000" stroke-width="2.6"/>
<line x1="175.30" x2="183.50" y1="413.30" y2="413.30" stroke="#000" stroke-width="2.6"/>
<line x1="168.50" x2="183.50" y1="386.50" y2="386.50" stroke="#000" stroke-width="3.0"/>
<line x1="175.30" x2="183.50" y1="360.50" y2="360.50" stroke="#000" stroke-width="2.6"/>
<line x1="175.30" x2="183.50" y1="334.10" y2="334.10" stroke="#000" stroke-width="2.6"/>
<line x1="175.30" x2="183.50" y1="307.70" y2="307.70" stroke="#000" stroke-width="2.6"/>
<line x1="175.30" x2="183.50" y1="281.30" y2="281.30" stroke="#000" stroke-width="2.6"/>
<line x1="168.50" x2="183.50" y1="254.50" y2="254.50" stroke="#000" stroke-width="3.0"/>
<line x1="175.30" x2="183.50" y1="228.50" y2="228.50" stroke="#000" stroke-width="2.6"/>
<line x1="175.30" x2="183.50" y1="202.10" y2="202.10" stroke="#000" stroke-width="2.6"/>
<line x1="175.30" x2="183.50" y1="175.70" y2="175.70" stroke="#000" stroke-width="2.6"/>
<line x1="175.30" x2="183.50" y1="149.30" y2="149.30" stroke="#000" stroke-width="2.6"/>
<line x1="168.50" x2="183.50" y1="122.50" y2="122.50" stroke="#000" stroke-width="3.0"/>
<line x1="3662.30" x2="3670.50" y1="1020.50" y2="1020.50" stroke="#000" stroke-width="2.6"/>
<line x1="3662.30" x2="3670.50" y1="994.10" y2="994.10" stroke="#000" stroke-width="2.6"/>
<line x1="3662.30" x2="3670.50" y1="967.70" y2="967.70" stroke="#000" stroke-width="2.6"/>
<line x1="3662.30" x2="3670.50" y1="941.30" y2="941.30" stroke="#000" stroke-width="2.6"/>
<line x1="3662.30" x2="3670.50" y1="888.50" y2="888.50" stroke="#000" stroke-width="2.6"/>
<line x1="3662.30" x2="3670.50" y1="862.10" y2="862.10" stroke="#000" stroke-width="2.6"/>
<line x1="3662.30" x2="3670.50" y1="835.70" y2="835.70" stroke="#000" stroke-width="2.6"/>
<line x1="3662.30" x2="3670.50" y1="809.30" y2="809.30" stroke="#000" stroke-width="2.6"/>
<line x1="3662.30" x2="3670.50" y1="756.50" y2="756.50" stroke="#000" stroke-width="2.6"/>
<line x1="3662.30" x2="3670.50" y1="730.10" y2="730.10" stroke="#000" stroke-width="2.6"/>
<line x1="3662.30" x2="3670.50" y1="703.70" y2="703.70" stroke="#000" stroke-width="2.6"/>
<line x1="3662.30" x2="3670.50" y1="677.30" y2="677.30" stroke="#000" stroke-width="2.6"/>
<line x1="3662.30" x2="3670.50" y1="624.50" y2="624.50" stroke="#000" stroke-width="2.6"/>
<line x1="3662.30" x2="3670.50" y1="598.10" y2="598.10" stroke="#000" stroke-width="2.6"/>
<line x1="3662.30" x2="3670.50" y1="571.70" y2="571.70" stroke="#000" stroke-width="2.6"/>
<line x1="3662.30" x2="3670.50" y1="545.30" y2="545.30" stroke="#000" stroke-width="2.6"/>
<line x1="3662.30" x2="3670.50" y1="492.50" y2="492.50" stroke="#000" stroke-width="2.6"/>
<line x1="3662.30" x2="3670.50" y1="466.10" y2="466.10" stroke="#000" stroke-width="2.6"/>
<line x1="3662.30" x2="3670.50" y1="439.70" y2="439.70" stroke="#000" stroke-width="2.6"/>
<line x1="3662.30" x2="3670.50" y1="413.30" y2="413.30" stroke="#000" stroke-width="2.6"/>
<line x1="3662.30" x2="3670.50" y1="360.50" y2="360.50" stroke="#000" stroke-width="2.6"/>
<line x1="3662.30" x2="3670.50" y1="334.10" y2="334.10" stroke="#000" stroke-width="2.6"/>
<line x1="3662.30" x2="3670.50" y1="307.70" y2="307.70" stroke="#000" stroke-width="2.6"/>
<line x1="3662.30" x2="3670.50" y1="281.30" y2="281.30" stroke="#000" stroke-width="2.6"/>
<line x1="3662.30" x2="3670.50" y1="228.50" y2="228.50" stroke="#000" stroke-width="2.6"/>
<line x1="3662.30" x2="3670.50" y1="202.10" y2="202.10" stroke="#000" stroke-width="2.6"/>
<line x1="3662.30" x2="3670.50" y1="175.70" y2="175.70" stroke="#000" stroke-width="2.6"/>
<line x1="3662.30" x2="3670.50" y1="149.30" y2="149.30" stroke="#000" stroke-width="2.6"/>
<line x1="183.50" x2="183.50" y1="1046.50" y2="1061.50" stroke="#000" stroke-width="3.0"/>
<line x1="309.17" x2="309.17" y1="1046.50" y2="1054.70" stroke="#000" stroke-width="2.6"/>
<line x1="433.50" x2="433.50" y1="1046.50" y2="1061.50" stroke="#000" stroke-width="3.0"/>
<line x1="559.72" x2="559.72" y1="1046.50" y2="1054.70" stroke="#000" stroke-width="2.6"/>
<line x1="684.50" x2="684.50" y1="1046.50" y2="1061.50" stroke="#000" stroke-width="3.0"/>
<line x1="810.27" x2="810.27" y1="1046.50" y2="1054.70" stroke="#000" stroke-width="2.6"/>
<line x1="935.50" x2="935.50" y1="1046.50" y2="1061.50" stroke="#000" stroke-width="3.0"/>
<line x1="1060.82" x2="1060.82" y1="1046.50" y2="1054.70" stroke="#000" stroke-width="2.6"/>
<line x1="1185.50" x2="1185.50" y1="1046.50" y2="1061.50" stroke="#000" stroke-width="3.0"/>
<line x1="1311.37" x2="1311.37" y1="1046.50" y2="1054.70" stroke="#000" stroke-width="2.6"/>
<line x1="1436.50" x2="1436.50" y1="1046.50" y2="1061.50" stroke="#000" stroke-width="3.0"/>
<line x1="1561.91" x2="1561.91" y1="1046.50" y2="1054.70" stroke="#000" stroke-width="2.6"/>
<line x1="1686.50" x2="1686.50" y1="1046.50" y2="1061.50" stroke="#000" stroke-width="3.0"/>
<line x1="1812.46" x2="1812.46" y1="1046.50" y2="1054.70" stroke="#000" stroke-width="2.6"/>
<line x1="1937.50" x2="1937.50" y1="1046.50" y2="1061.50" stroke="#000" stroke-width="3.0"/>
<line x1="2063.01" x2="2063.01" y1="1046.50" y2="1054.70" stroke="#000" stroke-width="2.6"/>
<line x1="2187.50" x2="2187.50" y1="1046.50" y2="1061.50" stroke="#000" stroke-width="3.0"/>
<line x1="2313.56" x2="2313.56" y1="1046.50" y2="1054.70" stroke="#000" stroke-width="2.6"/>
<line x1="2438.50" x2="2438.50" y1="1046.50" y2="1061.50" stroke="#000" stroke-width="3.0"/>
<line x1="2564.11" x2="2564.11" y1="1046.50" y2="1054.70" stroke="#000" stroke-width="2.6"/>
<line x1="2688.50" x2="2688.50" y1="1046.50" y2="1061.50" stroke="#000" stroke-width="3.0"/>
<line x1="2814.65" x2="2814.65" y1="1046.50" y2="1054.70" stroke="#000" stroke-width="2.6"/>
<line x1="2939.50" x2="2939.50" y1="1046.50" y2="1061.50" stroke="#000" stroke-width="3.0"/>
<line x1="3065.20" x2="3065.20" y1="1046.50" y2="1054.70" stroke="#000" stroke-width="2.6"/>
<line x1="3189.50" x2="3189.50" y1="1046.50" y2="1061.50" stroke="#000" stroke-width="3.0"/>
<line x1="3315.75" x2="3315.75" y1="1046.50" y2="1054.70" stroke="#000" stroke-width="2.6"/>
<line x1="3440.50" x2="3440.50" y1="1046.50" y2="1061.50" stroke="#000" stroke-width="3.0"/>
<line x1="3566.30" x2="3566.30" y1="1046.50" y2="1054.70" stroke="#000" stroke-width="2.6"/>
<rect x="183.50" y="122.50" width="3487.00" height="924.00" fill="none" stroke="#000" stroke-width="3.0"/>
<text x="136.13" y="1057.90" font-size="30.00" textLength="16.31" lengthAdjust="spacingAndGlyphs">0</text>
<text x="98.91" y="925.90" font-size="30.00" textLength="53.62" lengthAdjust="spacingAndGlyphs">500</text>
<text x="81.09" y="793.90" font-size="30.00" textLength="71.49" lengthAdjust="spacingAndGlyphs">1000</text>
<text x="81.09" y="661.90" font-size="30.00" textLength="71.49" lengthAdjust="spacingAndGlyphs">1500</text>
<text x="80.38" y="529.90" font-size="30.00" textLength="72.21" lengthAdjust="spacingAndGlyphs">2000</text>
<text x="80.38" y="397.90" font-size="30.00" textLength="72.21" lengthAdjust="spacingAndGlyphs">2500</text>
<text x="80.79" y="265.90" font-size="30.00" textLength="71.79" lengthAdjust="spacingAndGlyphs">3000</text>
<text x="80.79" y="133.90" font-size="30.00" textLength="71.79" lengthAdjust="spacingAndGlyphs">3500</text>
<text x="3686.63" y="1057.80" font-size="30.00" textLength="16.31" lengthAdjust="spacingAndGlyphs">0</text>
<text x="3685.97" y="925.80" font-size="30.00" textLength="34.57" lengthAdjust="spacingAndGlyphs">10</text>
<text x="3685.21" y="793.80" font-size="30.00" textLength="35.36" lengthAdjust="spacingAndGlyphs">20</text>
<text x="3685.62" y="661.80" font-size="30.00" textLength="34.93" lengthAdjust="spacingAndGlyphs">30</text>
<text x="3686.10" y="529.80" font-size="30.00" textLength="34.43" lengthAdjust="spacingAndGlyphs">40</text>
<text x="3685.54" y="397.80" font-size="30.00" textLength="35.01" lengthAdjust="spacingAndGlyphs">50</text>
<text x="3685.21" y="265.80" font-size="30.00" textLength="35.36" lengthAdjust="spacingAndGlyphs">60</text>
<text x="3685.21" y="133.80" font-size="30.00" textLength="35.36" lengthAdjust="spacingAndGlyphs">70</text>
<g transform="translate(215.30,1100.40) rotate(-30)">
<text x="-97.79" y="0.00" font-size="30.00" textLength="99.40" lengthAdjust="spacingAndGlyphs">15.Feb</text>
<text x="-80.12" y="31.30" font-size="30.00" textLength="82.35" lengthAdjust="spacingAndGlyphs">00:00</text>
</g>
<g transform="translate(465.90,1100.40) rotate(-30)">
<text x="-97.79" y="0.00" font-size="30.00" textLength="99.40" lengthAdjust="spacingAndGlyphs">15.Feb</text>
<text x="-81.30" y="31.30" font-size="30.00" textLength="83.56" lengthAdjust="spacingAndGlyphs">12:00</text>
</g>
<g transform="translate(716.49,1100.40) rotate(-30)">
<text x="-97.79" y="0.00" font-size="30.00" textLength="99.40" lengthAdjust="spacingAndGlyphs">16.Feb</text>
<text x="-80.12" y="31.30" font-size="30.00" textLength="82.35" lengthAdjust="spacingAndGlyphs">00:00</text>
</g>
<g transform="translate(967.09,1100.40) rotate(-30)">
<text x="-97.79" y="0.00" font-size="30.00" textLength="99.40" lengthAdjust="spacingAndGlyphs">16.Feb</text>
<text x="-81.30" y="31.30" font-size="30.00" textLength="83.56" lengthAdjust="spacingAndGlyphs">12:00</text>
</g>
<g transform="translate(1217.68,1100.40) rotate(-30)">
<text x="-97.79" y="0.00" font-size="30.00" textLength="99.40" lengthAdjust="spacingAndGlyphs">17.Feb</text>
<text x="-80.12" y="31.30" font-size="30.00" textLength="82.35" lengthAdjust="spacingAndGlyphs">00:00</text>
</g>
<g transform="translate(1468.28,1100.40) rotate(-30)">
<text x="-97.79" y="0.00" font-size="30.00" textLength="99.40" lengthAdjust="spacingAndGlyphs">17.Feb</text>
<text x="-81.30" y="31.30" font-size="30.00" textLength="83.56" lengthAdjust="spacingAndGlyphs">12:00</text>
</g>
<g transform="translate(1718.88,1100.40) rotate(-30)">
<text x="-97.79" y="0.00" font-size="30.00" textLength="99.40" lengthAdjust="spacingAndGlyphs">18.Feb</text>
<text x="-80.12" y="31.30" font-size="30.00" textLength="82.35" lengthAdjust="spacingAndGlyphs">00:00</text>
</g>
<g transform="translate(1969.47,1100.40) rotate(-30)">
<text x="-97.79" y="0.00" font-size="30.00" textLength="99.40" lengthAdjust="spacingAndGlyphs">18.Feb</text>
<text x="-81.30" y="31.30" font-size="30.00" textLength="83.56" lengthAdjust="spacingAndGlyphs">12:00</text>
</g>
<g transform="translate(2220.07,1100.40) rotate(-30)">
<text x="-97.79" y="0.00" font-size="30.00" textLength="99.40" lengthAdjust="spacingAndGlyphs">19.Feb</text>
<text x="-80.12" y="31.30" font-size="30.00" textLength="82.35" lengthAdjust="spacingAndGlyphs">00:00</text>
</g>
<g transform="translate(2470.66,1100.40) rotate(-30)">
<text x="-97.79" y="0.00" font-size="30.00" textLength="99.40" lengthAdjust="spacingAndGlyphs">19.Feb</text>
<text x="-81.30" y="31.30" font-size="30.00" textLength="83.56" lengthAdjust="spacingAndGlyphs">12:00</text>
</g>
<g transform="translate(2721.26,1100.40) rotate(-30)">
<text x="-96.98" y="0.00" font-size="30.00" textLength="98.58" lengthAdjust="spacingAndGlyphs">20.Feb</text>
<text x="-80.12" y="31.30" font-size="30.00" textLength="82.35" lengthAdjust="spacingAndGlyphs">00:00</text>
</g>
<g transform="translate(2971.86,1100.40) rotate(-30)">
<text x="-96.98" y="0.00" font-size="30.00" textLength="98.58" lengthAdjust="spacingAndGlyphs">20.Feb</text>
<text x="-81.30" y="31.30" font-size="30.00" textLength="83.56" lengthAdjust="spacingAndGlyphs">12:00</text>
</g>
<g transform="translate(3222.45,1100.40) rotate(-30)">
<text x="-96.98" y="0.00" font-size="30.00" textLength="98.58" lengthAdjust="spacingAndGlyphs">21.Feb</text>
<text x="-80.12" y="31.30" font-size="30.00" textLength="82.35" lengthAdjust="spacingAndGlyphs">00:00</text>
</g>
<g transform="translate(3473.05,1100.40) rotate(-30)">
<text x="-96.98" y="0.00" font-size="30.00" textLength="98.58" lengthAdjust="spacingAndGlyphs">21.Feb</text>
<text x="-81.30" y="31.30" font-size="30.00" textLength="83.56" lengthAdjust="spacingAndGlyphs">12:00</text>
</g>
<g transform="translate(56.1,585.4) rotate(-90)">
<text x="-79.21" y="0.00" font-size="35.40" textLength="157.93" lengthAdjust="spacingAndGlyphs">Höhe [m]</text>
</g>
<g transform="translate(3763.7,585.65) rotate(-90)">
<text x="-61.72" y="0.00" font-size="35.40" textLength="123.00" lengthAdjust="spacingAndGlyphs">P [mm]</text>
</g>
<text x="1671.91" y="58.40" font-size="36.30" font-weight="bold" textLength="508.96" lengthAdjust="spacingAndGlyphs">Trockene Schneefallgrenze</text>
<text x="1702.11" y="97.90" font-size="36.80" textLength="450.27" lengthAdjust="spacingAndGlyphs">AT-07-19 Glockturmgruppe</text>
<rect x="196.90" y="1200.00" width="1378.10" height="140.70" rx="5.5" ry="5.5" fill="#fff" stroke="#d4d4d4" stroke-width="3.9"/>
<text x="753.01" y="1237.90" font-size="36.80" textLength="266.90" lengthAdjust="spacingAndGlyphs">Wetterstationen</text>
<line x1="207.10" x2="270.00" y1="1271.50" y2="1271.50" stroke="#1f77b4" stroke-width="5"/>
<text x="290.37" y="1281.80" font-size="30.00" textLength="266.29" lengthAdjust="spacingAndGlyphs">Nauders (1328 m)</text>
<line x1="207.10" x2="270.00" y1="1313.50" y2="1313.50" stroke="#ff7f0e" stroke-width="5"/>
<text x="291.45" y="1324.60" font-size="30.00" textLength="331.33" lengthAdjust="spacingAndGlyphs">Gamoarbach (2581 m)</text>
<line x1="678.20" x2="742.10" y1="1271.50" y2="1271.50" stroke="#2ca02c" stroke-width="5"/>
<text x="762.41" y="1281.80" font-size="30.00" textLength="307.87" lengthAdjust="spacingAndGlyphs">Schartlkopf (2800 m)</text>
<line x1="678.20" x2="742.10" y1="1313.50" y2="1313.50" stroke="#d62728" stroke-width="5"/>
<text x="763.73" y="1324.60" font-size="30.00" textLength="262.65" lengthAdjust="spacingAndGlyphs">Valdafur (2500 m)</text>
<line x1="1127.10" x2="1189.60" y1="1271.50" y2="1271.50" stroke="#9467bd" stroke-width="5"/>
<text x="1211.37" y="1281.80" font-size="30.00" textLength="295.70" lengthAdjust="spacingAndGlyphs">Tscheyegg (2668 m)</text>
<line x1="1127.10" x2="1189.60" y1="1313.50" y2="1313.50" stroke="#8c564b" stroke-width="5"/>
<text x="1211.94" y="1324.60" font-size="30.00" textLength="351.45" lengthAdjust="spacingAndGlyphs">Weisssee LWD (2480 m)</text>
<rect x="2810.20" y="1200.00" width="845.50" height="140.70" rx="5.5" ry="5.5" fill="#fff" stroke="#d4d4d4" stroke-width="3.9"/>
<text x="3122.29" y="1237.90" font-size="36.80" textLength="219.72" lengthAdjust="spacingAndGlyphs">Niederschlag</text>
<line x1="2822.1" x2="2878.2" y1="1271.0" y2="1271.0" stroke="#000" stroke-width="6.4" stroke-dasharray="23.3 9.9"/>
<text x="2905.17" y="1281.80" font-size="30.00" textLength="120.54" lengthAdjust="spacingAndGlyphs">Nauders</text>
<rect x="3066.80" y="1258.20" width="62.8" height="24.7" fill="#d5e5f2"/>
<text x="3151.99" y="1281.80" font-size="30.00" textLength="188.03" lengthAdjust="spacingAndGlyphs">N ≥ 0.1mm/h</text>
<rect x="3066.80" y="1301.10" width="62.8" height="24.7" fill="#b3d0e7"/>
<text x="3152.01" y="1324.60" font-size="30.00" textLength="186.19" lengthAdjust="spacingAndGlyphs">N ≥ 0.5mm/h</text>
<rect x="3381.10" y="1258.20" width="62.8" height="24.7" fill="#82b5d6"/>
<text x="3466.29" y="1281.80" font-size="30.00" textLength="160.17" lengthAdjust="spacingAndGlyphs">N ≥ 4mm/h</text>
<rect x="3381.10" y="1301.10" width="62.8" height="24.7" fill="#4a96c8"/>
<text x="3466.29" y="1324.60" font-size="30.00" textLength="178.41" lengthAdjust="spacingAndGlyphs">N ≥ 10mm/h</text>
</svg>
</body></html>
